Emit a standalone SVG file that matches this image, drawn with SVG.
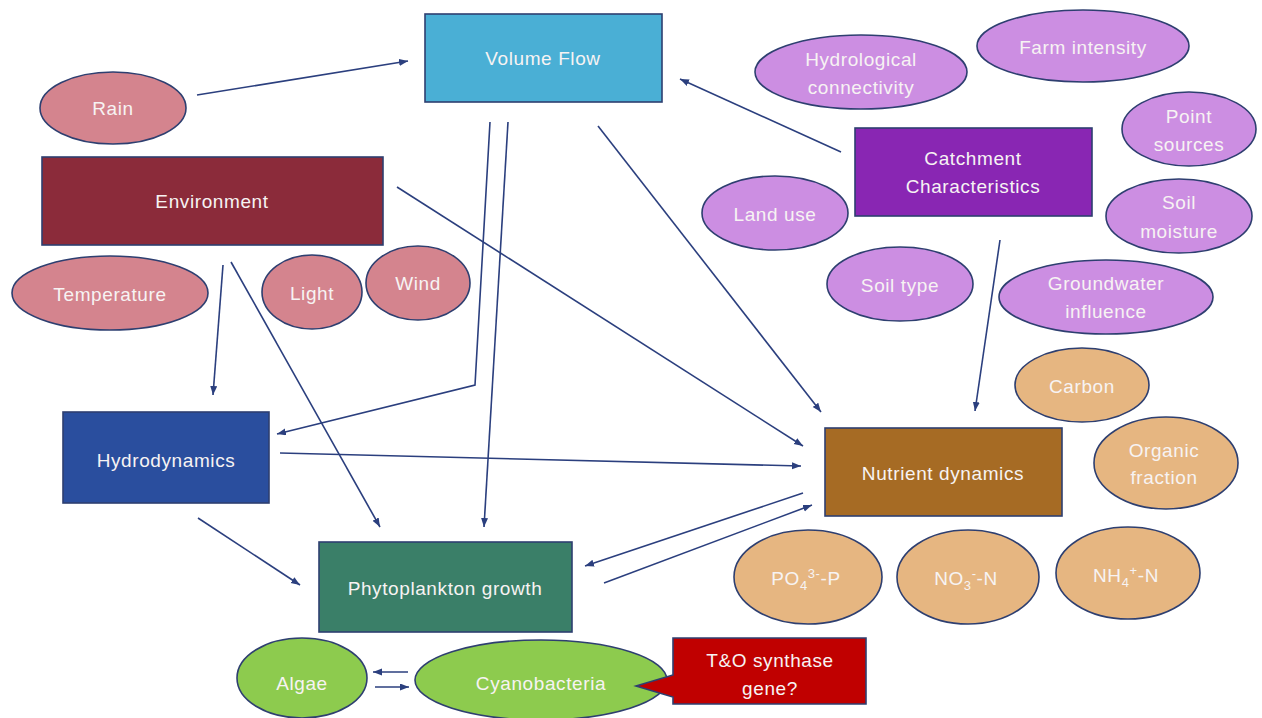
<svg xmlns="http://www.w3.org/2000/svg" width="1262" height="718" viewBox="0 0 1262 718">
<defs>
<marker id="ah" markerWidth="10" markerHeight="8" refX="9" refY="3.5" orient="auto" markerUnits="userSpaceOnUse"><path d="M0,0 L9,3.5 L0,7 z" fill="#2B3F7E"/></marker>
</defs>
<style>
.n{stroke:#2E3F70;stroke-width:1.6}
.t{font-family:"Liberation Sans",Arial,sans-serif;font-size:19px;letter-spacing:0.6px;fill:#F7F3F3;text-anchor:middle}
.c{stroke:#2B3F7E;stroke-width:1.6;fill:none;marker-end:url(#ah)}
.pink{fill:#D4848E}
.lp{fill:#CC8EE2}
.tan{fill:#E6B681}
.grn{fill:#8DCB4E}
</style>
<rect width="1262" height="718" fill="#FFFFFF"/>
<g id="connectors">
<line class="c" x1="197" y1="95" x2="408" y2="61"/>
<line class="c" x1="841" y1="152" x2="680" y2="79"/>
<line class="c" x1="598" y1="126" x2="821" y2="412"/>
<line class="c" x1="1000" y1="240" x2="975" y2="411"/>
<line class="c" x1="397" y1="187" x2="803" y2="446"/>
<line class="c" x1="280" y1="453" x2="801" y2="466"/>
<line class="c" x1="803" y1="493" x2="585" y2="566"/>
<line class="c" x1="604" y1="583" x2="812" y2="505"/>
<polyline class="c" points="490,122 475,385 277,434"/>
<line class="c" x1="508" y1="122" x2="484" y2="527"/>
<line class="c" x1="223" y1="265" x2="213" y2="395"/>
<line class="c" x1="231" y1="262" x2="380" y2="527"/>
<line class="c" x1="198" y1="518" x2="300" y2="585"/>
<line class="c" x1="408" y1="672" x2="373" y2="672"/>
<line class="c" x1="375" y1="687" x2="409" y2="687"/>
</g>
<g id="volume-flow"><rect class="n" x="425" y="14" width="237" height="88" fill="#4AAFD5"/><text class="t" x="543" y="65">Volume Flow</text></g>
<g id="rain"><ellipse class="n pink" cx="113" cy="108" rx="73" ry="36"/><text class="t" x="113" y="115">Rain</text></g>
<g id="environment"><rect class="n" x="42" y="157" width="341" height="88" fill="#8B2B3A"/><text class="t" x="212" y="208">Environment</text></g>
<g id="temperature"><ellipse class="n pink" cx="110" cy="293" rx="98" ry="37"/><text class="t" x="110" y="301">Temperature</text></g>
<g id="light"><ellipse class="n pink" cx="312" cy="292" rx="50" ry="37"/><text class="t" x="312" y="300">Light</text></g>
<g id="wind"><ellipse class="n pink" cx="418" cy="283" rx="52" ry="37"/><text class="t" x="418" y="290">Wind</text></g>
<g id="hydrodynamics"><rect class="n" x="63" y="412" width="206" height="91" fill="#2A4E9E"/><text class="t" x="166" y="467">Hydrodynamics</text></g>
<g id="phytoplankton"><rect class="n" x="319" y="542" width="253" height="90" fill="#3A7F68"/><text class="t" x="445" y="595">Phytoplankton growth</text></g>
<g id="algae"><ellipse class="n grn" cx="302" cy="678" rx="65" ry="40"/><text class="t" x="302" y="690">Algae</text></g>
<g id="cyanobacteria"><ellipse class="n grn" cx="541" cy="680" rx="126" ry="40"/><text class="t" x="541" y="690">Cyanobacteria</text></g>
<g id="tando"><path class="n" d="M673,638 H866 V704 H673 V697 L636,686 L673,675 Z" fill="#C00000"/><text class="t" x="770" y="667">T&amp;O synthase</text><text class="t" x="770" y="695">gene?</text></g>
<g id="nutrient"><rect class="n" x="825" y="428" width="237" height="88" fill="#A66B24"/><text class="t" x="943" y="480">Nutrient dynamics</text></g>
<g id="carbon"><ellipse class="n tan" cx="1082" cy="385" rx="67" ry="37"/><text class="t" x="1082" y="393">Carbon</text></g>
<g id="organic"><ellipse class="n tan" cx="1166" cy="463" rx="72" ry="46"/><text class="t" x="1164" y="457">Organic</text><text class="t" x="1164" y="484">fraction</text></g>
<g id="po4"><ellipse class="n tan" cx="808" cy="577" rx="74" ry="47"/><text class="t" x="806" y="585">PO<tspan dy="5" font-size="13">4</tspan><tspan dy="-12" font-size="13">3-</tspan><tspan dy="7">-P</tspan></text></g>
<g id="no3"><ellipse class="n tan" cx="968" cy="577" rx="71" ry="47"/><text class="t" x="966" y="585">NO<tspan dy="5" font-size="13">3</tspan><tspan dy="-12" font-size="13">-</tspan><tspan dy="7">-N</tspan></text></g>
<g id="nh4"><ellipse class="n tan" cx="1128" cy="573" rx="72" ry="46"/><text class="t" x="1126" y="582">NH<tspan dy="5" font-size="13">4</tspan><tspan dy="-12" font-size="13">+</tspan><tspan dy="7">-N</tspan></text></g>
<g id="catchment"><rect class="n" x="855" y="128" width="237" height="88" fill="#8926B3"/><text class="t" x="973" y="165">Catchment</text><text class="t" x="973" y="193">Characteristics</text></g>
<g id="hydrological"><ellipse class="n lp" cx="861" cy="72" rx="106" ry="37"/><text class="t" x="861" y="66">Hydrological</text><text class="t" x="861" y="94">connectivity</text></g>
<g id="farm"><ellipse class="n lp" cx="1083" cy="46" rx="106" ry="36"/><text class="t" x="1083" y="54">Farm intensity</text></g>
<g id="point"><ellipse class="n lp" cx="1189" cy="129" rx="67" ry="37"/><text class="t" x="1189" y="123">Point</text><text class="t" x="1189" y="151">sources</text></g>
<g id="soil-moisture"><ellipse class="n lp" cx="1179" cy="216" rx="73" ry="37"/><text class="t" x="1179" y="209">Soil</text><text class="t" x="1179" y="238">moisture</text></g>
<g id="land-use"><ellipse class="n lp" cx="775" cy="213" rx="73" ry="37"/><text class="t" x="775" y="221">Land use</text></g>
<g id="soil-type"><ellipse class="n lp" cx="900" cy="284" rx="73" ry="37"/><text class="t" x="900" y="292">Soil type</text></g>
<g id="groundwater"><ellipse class="n lp" cx="1106" cy="297" rx="107" ry="37"/><text class="t" x="1106" y="290">Groundwater</text><text class="t" x="1106" y="318">influence</text></g>
</svg>
